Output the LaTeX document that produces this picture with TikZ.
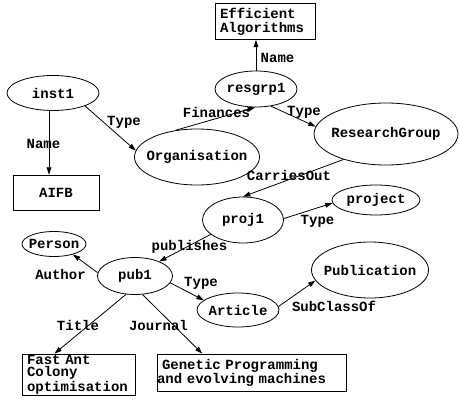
\documentclass[tikz,border=0pt]{standalone}
\usepackage{fontspec}
\setmainfont{Liberation Mono}
\usetikzlibrary{arrows.meta,shapes.geometric}
% zero-width box so the ellipse size comes only from minimum width/height
\newcommand\mkc[1]{\makebox[0pt]{#1}}
\begin{document}
\begin{tikzpicture}[x=0.75pt,y=-0.75pt,
  every node/.style={font=\fontsize{10.5}{10.5}\selectfont\bfseries},
  res/.style={draw, ellipse, inner sep=0pt, line width=0.6pt},
  lit/.style={draw, rectangle, inner xsep=3.75pt, inner ysep=0pt, align=left, line width=0.6pt},
  rel/.style={line width=0.6pt, -{Triangle[length=5.5pt,width=3.6pt]}},
  lbl/.style={inner sep=0pt}]
\useasboundingbox (0,0) rectangle (459,399);

% resources
\node[res, minimum width=61.5pt, minimum height=27pt]    (resgrp1) at (256,89)  {\mkc{resgrp1}};
\node[res, minimum width=69pt, minimum height=26.25pt]   (inst1)   at (53,93)   {\mkc{inst1}};
\node[res, minimum width=93.75pt, minimum height=42pt]   (org)     at (197,157) {\mkc{Organisation}};
\node[res, minimum width=108pt, minimum height=46.5pt]   (rg)      at (386,134) {\mkc{ResearchGroup}};
\node[res, minimum width=60.75pt, minimum height=34.5pt] (proj1)   at (243,220) {\mkc{proj1}};
\node[res, minimum width=66pt, minimum height=22.5pt]    (project) at (376,200) {\mkc{project}};
\node[res, minimum width=48pt, minimum height=18.75pt]   (person)  at (54,244)  {\mkc{Person}};
\node[res, minimum width=56.25pt, minimum height=27.75pt](pub1)    at (135,276) {\mkc{pub1}};
\node[res, minimum width=61.5pt, minimum height=25.5pt]  (article) at (238,310) {\mkc{Article}};
\node[res, minimum width=87.75pt, minimum height=42pt]   (pubcls)  at (370,270) {\mkc{Publication}};

% literals
\node[lit, text width=67.5pt, minimum height=27pt] (eff) at (265,21.5) {Efficient\\Algorithms};
\node[lit, text width=64.5pt, minimum height=26.25pt, inner xsep=0pt, align=center] (aifb) at (56,192.5) {AIFB};
\node[lit, text width=77.25pt, minimum height=30.75pt, font=\fontsize{10.5}{9.6}\selectfont\bfseries] (fast) at (78.5,374.5) {Fast Ant\\Colony\\optimisation};
\node[lit, text width=134.25pt, minimum height=27.75pt] (genetic) at (251.5,372.5) {Genetic Programming\\\hspace*{-3.75pt}and evolving machines};

% properties
\draw[rel] (resgrp1.north) -- (resgrp1.north |- eff.south);
\draw[rel] ([xshift=-3pt]inst1.south) -- ([xshift=-3pt]inst1.south |- aifb.north);
\draw[rel] (inst1.-22) -- (org.174.6);
\draw[rel] (org.129) -- (resgrp1.-93);
\draw[rel] (resgrp1.-49) -- (rg.174.4);
\draw[rel] (rg.-149) -- (proj1.90);
\draw[rel] (proj1.2) -- (project.-176);
\draw[rel] (proj1.-156) -- (pub1.31);
\draw[rel] (pub1.175) -- (person.-29);
\draw[rel] (pub1.-11) -- (article.164.5);
\draw[rel] (article.5.6) -- (pubcls.-169);
\draw[rel] (pub1.-116.6) -- (fast.139);
\draw[rel] (pub1.-68.2) -- (genetic.159.5);

% property names
\node[lbl] (l-name1)  at (277.5,58) {Name};
\node[lbl] (l-name2)  at (43.5,144) {Name};
\node[lbl] (l-type1)  at (124,122)  {Type};
\node[lbl] (l-fin)    at (216.5,112){Finances};
\node[lbl] (l-type2)  at (304,112)  {Type};
\node[lbl] (l-carr)   at (289,175)  {CarriesOut};
\node[lbl] (l-type3)  at (317.5,221){Type};
\node[lbl] (l-pubs)   at (189.5,247){publishes};
\node[lbl] (l-auth)   at (60.5,274) {Author};
\node[lbl] (l-type4)  at (201,283)  {Type};
\node[lbl] (l-sub)    at (334,306)  {SubClassOf};
\node[lbl] (l-title)  at (78,325)   {Title};
\node[lbl] (l-jour)   at (158.5,325){Journal};
\end{tikzpicture}
\end{document}
